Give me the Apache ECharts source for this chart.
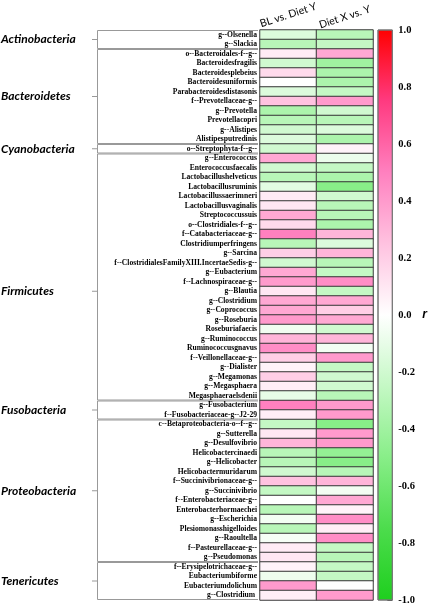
<!DOCTYPE html>
<html><head><meta charset="utf-8">
<script src="https://cdn.jsdelivr.net/npm/echarts@6/dist/echarts.min.js"></script>
<style>html,body{margin:0;padding:0;background:#fff}#c{width:429px;height:607px}</style>
</head><body><div id="c"></div>
<script>
// ---------- DATA ----------
const columns = ['BL vs. Diet Y', 'Diet X vs. Y'];
const taxa = [
  'g--Olsenella','g--Slackia',
  'o--Bacteroidales-f--g--','Bacteroidesfragilis','Bacteroidesplebeius','Bacteroidesuniformis','Parabacteroidesdistasonis','f--Prevotellaceae-g--','g--Prevotella','Prevotellacopri','g--Alistipes','Alistipesputredinis',
  'o--Streptophyta-f--g--',
  'g--Enterococcus','Enterococcusfaecalis','Lactobacillushelveticus','Lactobacillusruminis','Lactobacillussaerimneri','Lactobacillusvaginalis','Streptococcussuis','o--Clostridiales-f--g--','f--Catabacteriaceae-g--','Clostridiumperfringens','g--Sarcina','f--ClostridialesFamilyXIII.IncertaeSedis-g--','g--Eubacterium','f--Lachnospiraceae-g--','g--Blautia','g--Clostridium','g--Coprococcus','g--Roseburia','Roseburiafaecis','g--Ruminococcus','Ruminococcusgnavus','f--Veillonellaceae-g--','g--Dialister','g--Megamonas','g--Megasphaera','Megasphaeraelsdenii',
  'g--Fusobacterium','f--Fusobacteriaceae-g--J2-29',
  'c--Betaproteobacteria-o--f--g--','g--Sutterella','g--Desulfovibrio','Helicobactercinaedi','g--Helicobacter','Helicobactermuridarum','f--Succinivibrionaceae-g--','g--Succinivibrio','f--Enterobacteriaceae-g--','Enterobacterhormaechei','g--Escherichia','Plesiomonasshigelloides','g--Raoultella','f--Pasteurellaceae-g--','g--Pseudomonas',
  'f--Erysipelotrichaceae-g--','Eubacteriumbiforme','Eubacteriumdolichum','g--Clostridium '
];
const blVsDietY = [
  -0.15,-0.3,
  0.08,-0.2,0.15,0.0,-0.15,0.25,-0.35,-0.3,-0.2,-0.15,
  -0.2,
  0.35,-0.2,-0.3,-0.12,0.08,0.1,0.35,0.15,0.5,-0.3,0.2,-0.2,0.35,0.4,0.1,0.35,0.35,0.4,-0.06,0.3,0.45,0.2,0.05,0.2,0.07,-0.1,
  0.5,0.07,
  -0.25,0.1,0.3,-0.3,-0.3,-0.2,0.25,-0.25,0.0,-0.3,-0.05,-0.3,-0.04,0.08,0.1,
  0.05,-0.07,0.4,0.07
];
const dietXVsY = [
  -0.3,-0.25,
  0.35,-0.4,-0.35,-0.35,-0.25,0.4,-0.2,-0.3,-0.15,-0.35,
  0.05,
  -0.08,-0.25,-0.35,-0.5,-0.2,-0.3,-0.3,-0.35,0.3,-0.15,0.3,-0.3,-0.25,0.45,-0.25,0.35,0.2,0.35,-0.2,0.3,-0.05,0.4,-0.25,-0.2,-0.2,-0.3,
  0.4,0.4,
  -0.5,0.4,0.4,-0.45,-0.5,-0.3,0.3,-0.05,0.35,0.05,0.45,0.07,0.45,-0.25,-0.3,
  -0.25,-0.25,0.0,0.4
];
const phyla = ['Actinobacteria','Bacteroidetes','Cyanobacteria','Firmicutes','Fusobacteria','Proteobacteria','Tenericutes'];
const phylumSizes = [2, 10, 1, 26, 2, 15, 4];
const scaleColors = ['#1ecf1e','#4cdc4c','#88ee88','#c4f8c4','#ffffff','#ffc2e0','#ff80bf','#ff3a80','#ff0000'];

// ---------- LAYOUT (not data) ----------
const firmicutesLabelRow = 27; // label sits beside g--Blautia in the reference

const heatData = [];
taxa.forEach((t, i) => {
  heatData.push([0, i, blVsDietY[i]]);
  heatData.push([1, i, dietXVsY[i]]);
});

const chart = echarts.init(document.getElementById('c'), null, {renderer: 'canvas'});
const serif = 'Liberation Serif, Times New Roman, serif';

const option = {
  animation: false,
  backgroundColor: '#fff',
  grid: [
    {left: 260, right: 56, top: 30, bottom: 7, containLabel: false},
    {left: 378, width: 16, top: 30, bottom: 7, containLabel: false}
  ],
  xAxis: [
    {type: 'category', data: columns, gridIndex: 0, position: 'top',
     axisLine: {show: false}, axisTick: {show: false}, splitLine: {show: false},
     axisLabel: {show: false}},
    {type: 'category', data: [''], gridIndex: 1, show: false}
  ],
  yAxis: [
    {type: 'category', data: taxa, gridIndex: 0, inverse: true,
     axisLine: {show: false}, axisTick: {show: false}, splitLine: {show: false},
     axisLabel: {interval: 0, margin: 3, fontFamily: serif, fontWeight: 'bold', fontSize: 7.6, color: '#000'}},
    {type: 'value', gridIndex: 1, min: -1, max: 1, interval: 0.2, position: 'right',
     axisLine: {show: false}, splitLine: {show: false},
     axisTick: {show: true, inside: true, length: 5, lineStyle: {color: '#333', width: 1}},
     axisLabel: {margin: 6, formatter: v => v.toFixed(1), fontFamily: serif, fontWeight: 'bold', fontSize: 10.5, color: '#000'},
     name: 'r', nameLocation: 'middle', nameRotate: 0, nameGap: 30,
     nameTextStyle: {fontStyle: 'italic', fontWeight: 'bold', fontSize: 12, fontFamily: 'Liberation Sans, sans-serif', color: '#000'}}
  ],
  visualMap: {type: 'continuous', show: false, seriesIndex: 0, min: -1, max: 1, inRange: {color: scaleColors}},
  series: [
    {type: 'heatmap', xAxisIndex: 0, yAxisIndex: 0, data: heatData,
     itemStyle: {borderColor: '#3a3a3a', borderWidth: 1},
     emphasis: {disabled: true}},
    {type: 'custom', xAxisIndex: 1, yAxisIndex: 1, data: [[0, -1, 1]], silent: true,
     renderItem: function (params, api) {
       const top = api.coord([0, api.value(2)]);
       const bot = api.coord([0, api.value(1)]);
       const w = api.size([1, 0])[0];
       const stops = scaleColors.slice().reverse().map((c, i) => ({offset: i / (scaleColors.length - 1), color: c}));
       return {type: 'rect', shape: {x: top[0] - w / 2, y: top[1], width: w, height: bot[1] - top[1]},
         style: {fill: new echarts.graphic.LinearGradient(0, 0, 0, 1, stops), stroke: '#777', lineWidth: 1}};
     }}
  ]
};
chart.setOption(option);

// column headers, positioned via the x axis scale
const graphics = [];
columns.forEach((c, i) => {
  const x = chart.convertToPixel({xAxisIndex: 0}, i);
  graphics.push({type: 'text', x: x, y: 15 + i * 2, rotation: 18 * Math.PI / 180, silent: true,
    style: {text: c, font: '10.5px Lato, Liberation Sans, sans-serif', fill: '#000', align: 'center', verticalAlign: 'middle'}});
});

// phylum brackets and labels, positioned via the y axis scale
const rowY = i => chart.convertToPixel({yAxisIndex: 0}, i);
const rowH = rowY(1) - rowY(0);
let start = 0;
phyla.forEach((p, g) => {
  const n = phylumSizes[g];
  const y0 = rowY(start) - rowH / 2 + 0.5;
  const y1 = rowY(start + n - 1) + rowH / 2 - 0.5;
  const labelY = g === 3 ? rowY(firmicutesLabelRow) : (y0 + y1) / 2;
  const lineStyle = {stroke: '#999', lineWidth: 1};
  graphics.push({type: 'polyline', shape: {points: [[258, y0], [97.5, y0], [97.5, y1], [258, y1]]}, style: Object.assign({fill: null}, lineStyle), silent: true});
  graphics.push({type: 'line', shape: {x1: 92, y1: labelY, x2: 97.5, y2: labelY}, style: lineStyle, silent: true});
  graphics.push({type: 'text', x: 1, y: labelY, style: {text: p, font: 'italic bold 12px Lato, Liberation Sans, sans-serif', fill: '#000', textVerticalAlign: 'middle', verticalAlign: 'middle'}, silent: true});
  start += n;
});
chart.setOption({graphic: graphics});
</script>
</body></html>
